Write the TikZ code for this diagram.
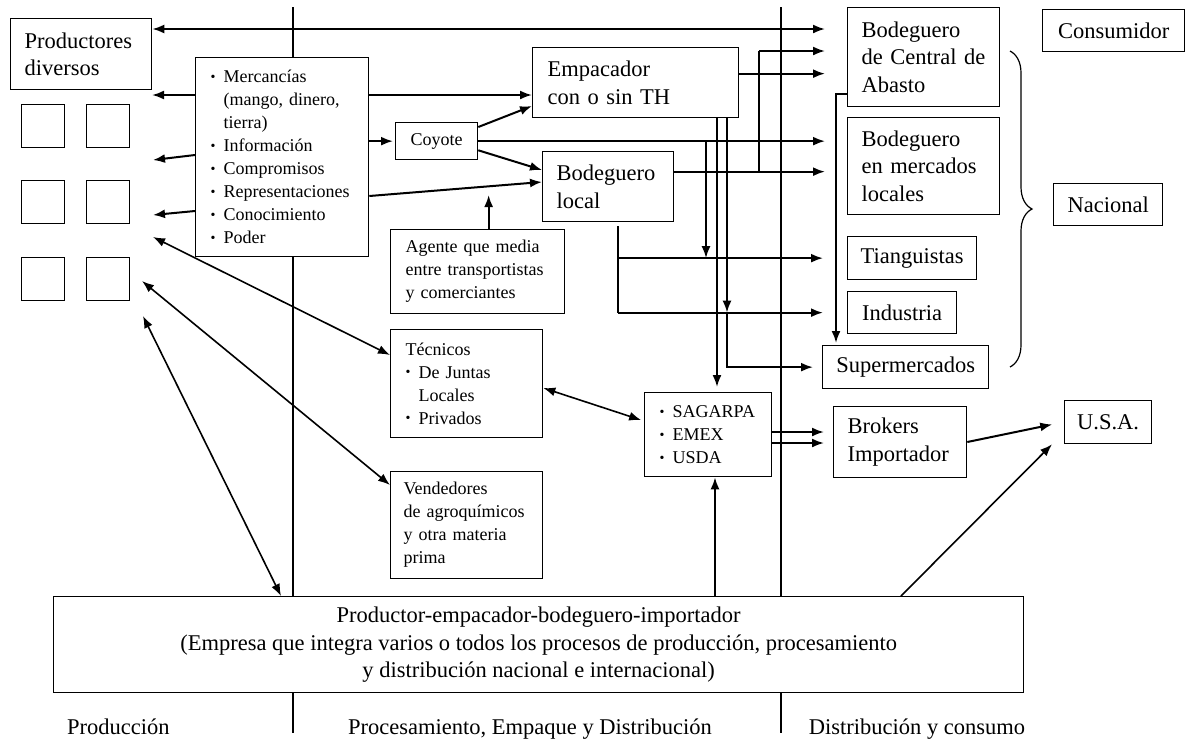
\documentclass[tikz,border=0pt]{standalone}
\usepackage{fontspec}
\setmainfont{Liberation Serif}
\usetikzlibrary{arrows.meta,decorations.pathreplacing}

\newcommand{\letragrande}{\fontsize{22.5}{27.5}\selectfont}
\newcommand{\letrachica}{\fontsize{18}{23}\selectfont}
\newcommand{\vineta}{\makebox[13pt][l]{\raisebox{1.5pt}{\fontsize{14}{14}\selectfont\textbullet}}}
\newcommand{\sangria}{\hspace*{13pt}}

\begin{document}
\begin{tikzpicture}[
        x=1pt, y=-1pt,
        >={Latex[length=12pt,width=9pt]},
        caja/.style={draw, line width=1.3pt, fill=white, anchor=north west,
                inner ysep=0pt, align=left},
        grande/.style={font=\letragrande},
        chica/.style={font=\letrachica},
        cuadro/.style={draw, line width=1.3pt, anchor=north west,
                minimum size=43pt, inner sep=0pt},
        flecha/.style={->, line width=2pt},
        doble/.style={<->, line width=1.6pt},
        linea/.style={line width=1.3pt},
        hueco/.style={shorten >=22pt}
    ]
    \useasboundingbox (0,0) rectangle (1186,740);

    % Dividers
    \draw[linea] (293,7) -- (293,733);
    \draw[linea] (781,7) -- (781,733);

    % Producers
    \node[caja, grande, inner xsep=14pt, text width=113pt, minimum height=71pt] (prod) at (10,18) {Productores\\diversos};
    \node[cuadro] (p1a) at (21,104) {};
    \node[cuadro] (p1b) at (86,104) {};
    \node[cuadro] (p2a) at (21,180) {};
    \node[cuadro] (p2b) at (86,180) {};
    \node[cuadro] (p3a) at (21,257) {};
    \node[cuadro] (p3b) at (86,257) {};

    % Middle boxes
    \node[caja, chica, inner xsep=15pt, text width=143pt, minimum height=199pt] (merc) at (195,57)
    {\vineta Mercancías\\ \sangria(mango,~dinero,\\ \sangria tierra)\\ \vineta Información\\ \vineta Compromisos\\ \vineta Representaciones\\ \vineta Conocimiento\\ \vineta Poder};
    \node[caja, chica, align=center, inner xsep=0pt, minimum width=82pt, minimum height=37pt] (coy) at (395,122) {Coyote};
    \node[caja, grande, inner xsep=15pt, text width=176pt, minimum height=70pt] (emp) at (532,47) {Empacador\\con~o~sin~TH};
    \node[caja, grande, inner xsep=14pt, text width=103pt, minimum height=70pt] (bodl) at (542,151) {Bodeguero\\local};
    \node[caja, chica, inner xsep=15pt, text width=144pt, minimum height=84pt] (agen) at (390,229) {Agente~que~media\\entre~transportistas\\y~comerciantes};
    \node[caja, chica, inner xsep=15pt, text width=122pt, minimum height=108pt] (tec) at (390,329) {Técnicos\\ \vineta De~Juntas\\ \sangria Locales\\ \vineta Privados};
    \node[caja, chica, inner xsep=13pt, text width=126pt, minimum height=107pt] (ven) at (390,471) {Vendedores\\de~agroquímicos\\y~otra~materia\\prima};
    \node[caja, chica, inner xsep=15pt, text width=97pt, minimum height=84pt] (sag) at (644,392) {\vineta SAGARPA\\ \vineta EMEX\\ \vineta USDA};

    % Right boxes
    \node[caja, grande, inner xsep=14pt, text width=124pt, minimum height=99pt] (bcen) at (847,7) {Bodeguero\\de~Central~de\\Abasto};
    \node[caja, grande, align=center, inner xsep=0pt, minimum width=142pt, minimum height=42pt] (cons) at (1042,9) {Consumidor};
    \node[caja, grande, inner xsep=14pt, text width=124pt, minimum height=97pt] (bmer) at (847,117) {Bodeguero\\en~mercados\\locales};
    \node[caja, grande, align=center, inner xsep=0pt, minimum width=129pt, minimum height=43pt] (tian) at (847,236) {Tianguistas};
    \node[caja, grande, align=center, inner xsep=0pt, minimum width=109pt, minimum height=42pt] (ind) at (847,291) {Industria};
    \node[caja, grande, align=center, inner xsep=0pt, minimum width=166pt, minimum height=43pt] (sup) at (822,345) {Supermercados};
    \node[caja, grande, align=center, inner xsep=0pt, minimum width=109pt, minimum height=42pt] (nac) at (1053,183) {Nacional};
    \node[caja, grande, inner xsep=14pt, text width=105pt, minimum height=71pt] (brok) at (833,406) {Brokers\\Importador};
    \node[caja, grande, align=center, inner xsep=0pt, minimum width=87pt, minimum height=43pt] (usa) at (1064,400) {U.S.A.};

    % Integrated firm
    \node[caja, grande, align=center, inner xsep=0pt, minimum width=970pt, minimum height=96pt] (pemp) at (53,596)
    {Productor-empacador-bodeguero-importador\\(Empresa que integra varios o todos los procesos de producción, procesamiento\\y distribución nacional e internacional)};

    % Stage labels
    \node[grande, anchor=base west, inner sep=0pt] (tprod) at (67,734) {Producción};
    \node[grande, anchor=base, inner sep=0pt] (tproc) at (530,734) {Procesamiento, Empaque y Distribución};
    \node[grande, anchor=base, inner sep=0pt] (tdist) at (917,734) {Distribución y consumo};

    % Free ends and junctions
    \coordinate (g1) at (152,95);
    \coordinate (g2) at (153,160);
    \coordinate (g3) at (153,215);
    \coordinate (g4) at (153,237);
    \coordinate (g5) at (142,281);
    \coordinate (g6) at (143,316);
    \coordinate (se) at ([yshift=9pt]emp.east);
    \coordinate (sb) at ([yshift=15pt]bodl.east);
    \coordinate (j1) at (759,51);

    % Producers and goods
    \draw[<->, line width=2pt, hueco] (prod.east |- 0,29) -- (bcen.west |- 0,29);
    \draw[flecha] (merc.west |- g1) -- (g1);
    \draw[flecha] (merc.east |- g1) -- (emp.west |- g1);
    \draw[flecha] (merc.west |- 0,155) -- (g2);
    \draw[flecha] (merc.west |- 0,211) -- (g3);
    \draw[flecha, shorten >=2pt] (merc.east |- coy.west) -- (coy.west);
    \draw[flecha] (merc.east |- 0,196) -- (bodl.west |- 0,182);
    \draw[flecha] ([yshift=-5pt]coy.north east) -- (emp.west |- 0,106);
    \draw[flecha] ([yshift=10pt]coy.south east) -- (bodl.west |- 0,170);
    \draw[flecha] ([xshift=11pt]agen.north) -- ++(0,-34);

    % Coyote
    \draw[flecha, hueco] (coy.east) -- (coy.east -| bmer.west);
    \draw[flecha] (coy.east -| 706,0) -- (tian.west -| 706,0);

    % Empacador
    \draw[flecha, hueco] (se) -- (se -| bcen.west);
    \draw[flecha, shorten >=5pt] (emp.south -| 717,0) -- (sag.north -| 717,0);
    \draw[flecha] (emp.south -| 727,0) -- (ind.west -| 727,0);
    \draw[flecha, shorten >=9pt] (ind.west -| 727,0) -- (sup.west -| 727,0) -- (sup.west);

    % Bodeguero local
    \draw[flecha, hueco] (sb) -- (sb -| bmer.west);
    \draw[linea] (sb -| j1) -- (j1);
    \draw[flecha, hueco] (j1) -- (bcen.west |- j1);
    \draw[linea, shorten <=4pt] (bodl.south -| 618,0) -- (ind.west -| 618,0);
    \draw[flecha, shorten >=24pt] (tian.west -| 618,0) -- (tian.west);
    \draw[flecha, shorten >=24pt] (ind.west -| 618,0) -- (ind.west);

    % Central de Abasto
    \draw[flecha, shorten >=2pt] (bcen.west |- 0,94) -- (836,94) -- (sup.north -| 836,0);

    % Services
    \draw[doble] (g4) -- (tec.west |- 0,355);
    \draw[doble] (g5) -- (ven.west |- 0,485);
    \draw[doble] (g6) -- (pemp.north -| 281,0);
    \draw[doble, shorten >=3pt] (tec.east |- 0,388) -- (sag.west |- 0,421);
    \draw[flecha, shorten >=9pt] (sag.east |- 0,432) -- (brok.west |- 0,432);
    \draw[flecha, shorten >=9pt] (sag.east |- 0,443) -- (brok.west |- 0,443);
    \draw[flecha, shorten >=12pt] (brok.east |- 0,442) -- (usa.west |- 0,422);
    \draw[flecha] (pemp.north -| 715,0) -- (sag.south -| 715,0);
    \draw[flecha, line width=1.6pt] (pemp.north -| 901,0) -- ([xshift=-12pt]usa.south west);

    % Brace
    \draw[decorate, decoration={brace, amplitude=22pt}, line width=1.2pt] (1010,51) -- (1010,367);
\end{tikzpicture}
\end{document}
